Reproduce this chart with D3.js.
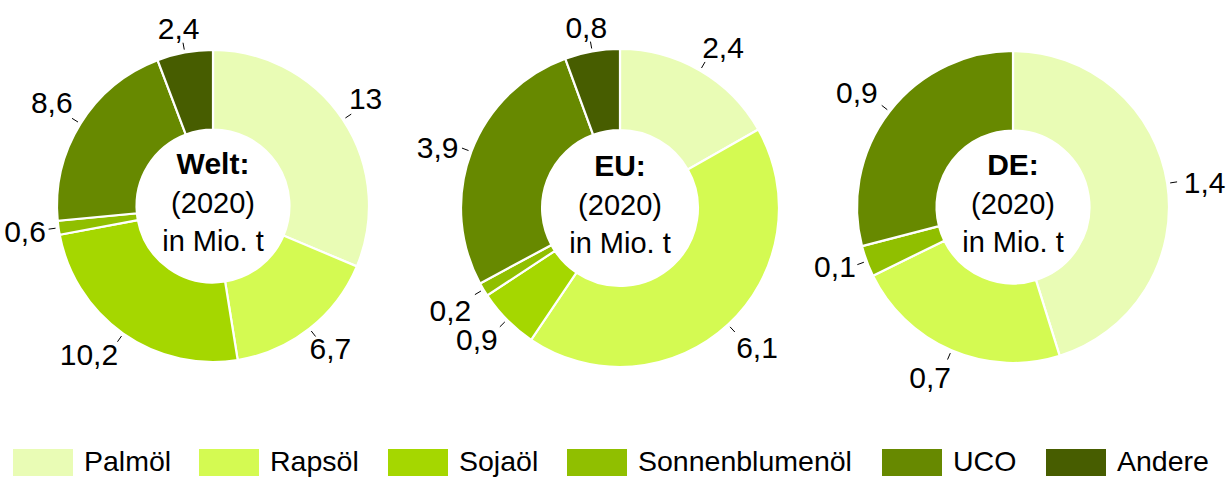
<!DOCTYPE html>
<html><head><meta charset="utf-8">
<script src="https://cdn.jsdelivr.net/npm/d3@7"></script>
<style>body{margin:0;background:#fff;} text{font-family:"Liberation Sans",Arial,sans-serif;fill:#000;}</style>
</head><body>
<svg id="c" width="1227" height="478"></svg>
<script>
const categories = ["Palmöl","Rapsöl","Sojaöl","Sonnenblumenöl","UCO","Andere"];
const colors = ["#e9fcb5","#d4fa52","#a5d700","#90bf00","#678900","#475d00"];
const weltValues = [13, 6.7, 10.2, 0.6, 8.6, 2.4];
const euValues = [2.4, 6.1, 0.9, 0.2, 3.9, 0.8];
const deValues = [1.4, 0.7, 0, 0.1, 0.9, 0];
const weltLabels = ["13","6,7","10,2","0,6","8,6","2,4"];
const euLabels = ["2,4","6,1","0,9","0,2","3,9","0,8"];
const deLabels = ["1,4","0,7","","0,1","0,9",""];
const titles = ["Welt:","EU:","DE:"];
const subtitle1 = "(2020)";
const subtitle2 = "in Mio. t";

const svg = d3.select("#c");
const charts = [
  {vals: weltValues, labels: weltLabels, title: titles[0], cx: 213, cy: 206, r: 156,
   nudge:{0:[-2,-8],2:[-10,0],4:[0,-8]}},
  {vals: euValues, labels: euLabels, title: titles[1], cx: 620, cy: 208, r: 159,
   nudge:{0:[6,-2],1:[6,4],2:[-6,2],3:[-4,8],4:[-2,4]}},
  {vals: deValues, labels: deLabels, title: titles[2], cx: 1013, cy: 207, r: 156,
   nudge:{0:[4,2],1:[-8,4],3:[0,-4],4:[-6,-4]}}
];
const color = d3.scaleOrdinal().domain(categories).range(colors);

charts.forEach(ch => {
  const data = categories.map((c,i)=>({cat:c, v:ch.vals[i], lab:ch.labels[i], i}));
  const pie = d3.pie().value(d=>d.v).sort(null);
  const arcs = pie(data);
  const inner = ch.r*0.49;
  const arc = d3.arc().innerRadius(inner).outerRadius(ch.r);
  const g = svg.append("g").attr("transform",`translate(${ch.cx},${ch.cy})`);
  g.selectAll("path").data(arcs.filter(a=>a.data.v>0)).join("path")
    .attr("d",arc).attr("fill",d=>color(d.data.cat))
    .attr("stroke","#fff").attr("stroke-width",2.2);
  arcs.filter(a=>a.data.v>0).forEach(a=>{
    const m=(a.startAngle+a.endAngle)/2;
    const s=Math.sin(m), c=-Math.cos(m);
    const r1=ch.r+3, r2=ch.r+10;
    g.append("line").attr("x1",s*r1).attr("y1",c*r1).attr("x2",s*r2).attr("y2",c*r2)
      .attr("stroke","#000").attr("stroke-width",1);
    const t=g.append("text").text(a.data.lab).attr("font-size",30);
    const bb=t.node().getBBox();
    const w=bb.width, h=22;
    const nd=ch.nudge[a.data.i]||[0,0];
    const x=s*r2 + s*(w/2+3) + nd[0];
    const y=c*r2 + c*(h/2+4) + nd[1];
    t.attr("x",x).attr("y",y+h/2).attr("text-anchor","middle");
  });
  g.append("text").text(ch.title).attr("text-anchor","middle").attr("y",-32)
    .attr("font-size",30).attr("font-weight","bold");
  g.append("text").text(subtitle1).attr("text-anchor","middle").attr("y",7).attr("font-size",29);
  g.append("text").text(subtitle2).attr("text-anchor","middle").attr("y",45).attr("font-size",29);
});

// legend
const legX = [13,199,388,567,882,1046];
const lg = svg.append("g");
categories.forEach((c,i)=>{
  lg.append("rect").attr("x",legX[i]).attr("y",449).attr("width",60).attr("height",27).attr("fill",colors[i]);
  lg.append("text").attr("x",legX[i]+71).attr("y",471).attr("font-size",28.5).text(c);
});
</script>
</body></html>
